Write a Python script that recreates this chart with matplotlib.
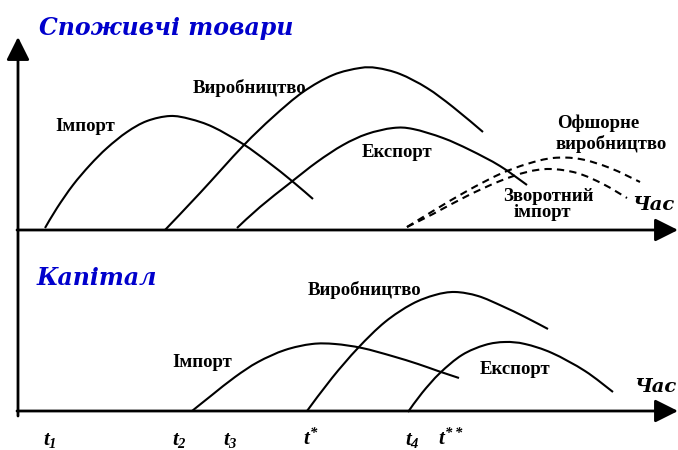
import matplotlib
matplotlib.use("Agg")
import matplotlib.pyplot as plt
from matplotlib.path import Path
from matplotlib.patches import PathPatch

# ---- data (time position, level in picture units) ----
# top panel: consumer goods
imp_top_x = [45, 57, 73, 90, 107, 127, 147, 170, 190, 213, 243, 268, 292, 313]
imp_top_y = [228, 208, 185, 165, 148, 132, 121, 116, 119, 127, 144, 162, 181, 199]
prod_top_x = [165, 200, 243, 273, 303, 333, 360, 377, 400, 427, 453, 483]
prod_top_y = [230, 193, 146, 117, 92, 75, 68, 68, 74, 88, 107, 132]
exp_top_x = [237, 260, 290, 317, 343, 367, 393, 413, 443, 470, 500, 527]
exp_top_y = [228, 207, 183, 162, 145, 134, 128, 129, 138, 150, 166, 185]
offshore_x = [407, 433, 467, 500, 527, 553, 580, 610, 640]
offshore_y = [227, 211, 191, 174, 164, 158, 159, 168, 182]
reimp_x = [407, 433, 467, 500, 527, 550, 577, 603, 627]
reimp_y = [227, 214, 196, 181, 172, 169, 173, 184, 198]
# bottom panel: capital
imp_bot_x = [192, 212, 235, 258, 285, 312, 335, 362, 392, 418, 438, 459]
imp_bot_y = [411, 395, 377, 362, 350, 344, 344, 348, 356, 364, 371, 378]
prod_bot_x = [307, 332, 358, 385, 412, 435, 455, 478, 502, 525, 548]
prod_bot_y = [411, 378, 348, 322, 304, 295, 292, 296, 306, 317, 329]
exp_bot_x = [408, 422, 440, 462, 485, 505, 525, 552, 585, 613]
exp_bot_y = [412, 393, 373, 355, 345, 342, 344, 353, 371, 392]

time_labels = ["$t_{1}$", "$t_{2}$", "$t_{3}$", "$t^{*}$", "$t_{4}$", "$t^{**}$"]
time_pos = [43, 172, 223, 303, 405, 438]

plt.rcParams["mathtext.fontset"] = "custom"
plt.rcParams["mathtext.rm"] = "Liberation Serif:bold:italic"
plt.rcParams["mathtext.it"] = "Liberation Serif:bold:italic"
plt.rcParams["mathtext.bf"] = "Liberation Serif:bold:italic"

fig = plt.figure(figsize=(6.78, 4.5), dpi=100)
ax = fig.add_axes([0, 0, 1, 1])
ax.set_xlim(0, 678)
ax.set_ylim(450, 0)
ax.axis("off")


def smooth_path(xs, ys):
    """Bezier path through the given points (Catmull-Rom tangents)."""
    pts = list(zip(xs, ys))
    n = len(pts)
    verts = [pts[0]]
    codes = [Path.MOVETO]
    for i in range(n - 1):
        p0 = pts[i - 1] if i > 0 else pts[i]
        p1 = pts[i]
        p2 = pts[i + 1]
        p3 = pts[i + 2] if i + 2 < n else pts[i + 1]
        c1 = (p1[0] + (p2[0] - p0[0]) / 6.0, p1[1] + (p2[1] - p0[1]) / 6.0)
        c2 = (p2[0] - (p3[0] - p1[0]) / 6.0, p2[1] - (p3[1] - p1[1]) / 6.0)
        verts += [c1, c2, p2]
        codes += [Path.CURVE4] * 3
    return Path(verts, codes)


lw = 1.5
for xs, ys in [(imp_top_x, imp_top_y), (prod_top_x, prod_top_y), (exp_top_x, exp_top_y),
               (imp_bot_x, imp_bot_y), (prod_bot_x, prod_bot_y), (exp_bot_x, exp_bot_y)]:
    ax.add_patch(PathPatch(smooth_path(xs, ys), fill=False, edgecolor="black", lw=lw,
                           capstyle="butt", joinstyle="round"))
for xs, ys in [(offshore_x, offshore_y), (reimp_x, reimp_y)]:
    ax.add_patch(PathPatch(smooth_path(xs, ys), fill=False, edgecolor="black", lw=lw,
                           linestyle=(0, (3.5, 2.5))))

# axes
arr = dict(arrowstyle="-|>,head_length=0.7,head_width=0.35", lw=2, color="black",
           shrinkA=0, shrinkB=0, mutation_scale=20)
ax.annotate("", xy=(18, 37), xytext=(18, 416), arrowprops=arr)
ax.annotate("", xy=(678, 230), xytext=(17, 230), arrowprops=arr)
ax.annotate("", xy=(678, 411), xytext=(17, 411), arrowprops=arr)

# titles
title_kw = dict(color="#0000CC", fontfamily="DejaVu Serif", fontweight="bold",
                fontstyle="italic", ha="left", va="baseline")
ax.text(39, 35, "Споживчі товари", fontsize=17, **title_kw)
ax.text(37, 285, "Капітал", fontsize=17, **title_kw)

lab = dict(fontfamily="Liberation Serif", fontweight="bold", fontsize=13.5,
           ha="left", va="baseline", color="black")
ax.text(55, 131, "Імпорт", **lab)
ax.text(193, 93, "Виробництво", **lab)
ax.text(362, 157, "Експорт", **lab)
ax.text(557, 128, "Офшорне", **lab)
ax.text(555, 149, "виробництво", **lab)
ax.text(503, 201, "Зворотний", **lab)
ax.text(514, 217, "імпорт", **lab)
ax.text(172, 367, "Імпорт", **lab)
ax.text(308, 295, "Виробництво", **lab)
ax.text(480, 374, "Експорт", **lab)

chas = dict(fontfamily="DejaVu Serif", fontweight="bold", fontstyle="italic",
            fontsize=14, ha="left", va="baseline", color="black")
ax.text(632, 210, "Час", **chas)
ax.text(634, 392, "Час", **chas)

for lbl, xp in zip(time_labels, time_pos):
    ax.text(xp, 445, lbl, fontsize=15, ha="left", va="baseline", color="black")

fig.savefig("out.png", dpi=100)
